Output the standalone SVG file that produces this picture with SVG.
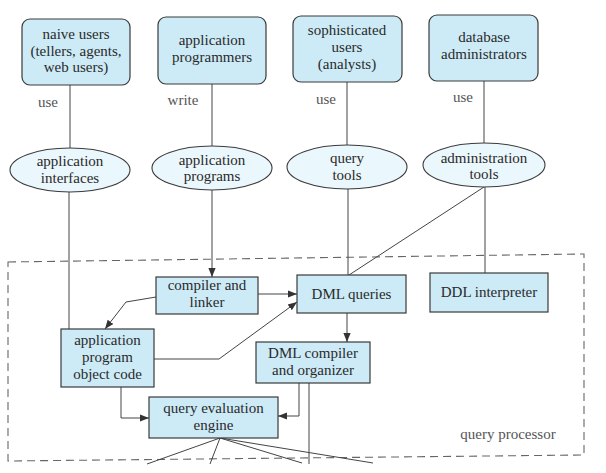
<svg xmlns="http://www.w3.org/2000/svg" width="606" height="473" viewBox="0 0 606 473">
<defs>
<style>
.box{fill:#cdeaf7;stroke:#3a3a3a;stroke-width:1.2}
.ell{fill:#eaf7fc;stroke:#3a3a3a;stroke-width:1.1}
.c{fill:none;stroke:#444;stroke-width:1}
.ca{fill:none;stroke:#444;stroke-width:1;marker-end:url(#ah)}
.dash{fill:none;stroke:#666;stroke-width:1.1;stroke-dasharray:8,5}
</style>
<marker id="ah" viewBox="0 0 10 10" refX="10" refY="5" markerWidth="9" markerHeight="9" markerUnits="userSpaceOnUse" orient="auto">
<path d="M0,1 L10,5 L0,9 z" fill="#333"/>
</marker>
</defs>
<rect width="606" height="473" fill="#fff"/>

<polygon id="query-processor-boundary" class="dash" points="8,262 584,254 584,455 8,461"/>
<text x="508" y="439" font-family="Liberation Serif" font-size="15" text-anchor="middle" fill="#555">query processor</text>

<g id="connectors">
<line class="c" x1="70" y1="85" x2="70" y2="148"/>
<line class="c" x1="212" y1="84" x2="212" y2="147"/>
<line class="c" x1="347" y1="82" x2="347" y2="145"/>
<line class="c" x1="484" y1="81" x2="484" y2="143"/>
<line class="c" x1="69" y1="192" x2="69" y2="329"/>
<line class="ca" x1="212" y1="190" x2="212" y2="277"/>
<line class="c" x1="348" y1="189" x2="348" y2="275"/>
<line class="c" x1="484" y1="187" x2="349" y2="275"/>
<line class="c" x1="485" y1="187" x2="485" y2="273"/>
<line class="ca" x1="258" y1="294" x2="297" y2="294"/>
<polyline class="ca" points="156,297 126,302 105,329"/>
<polyline class="ca" points="154,359 219,359 297,302"/>
<line class="ca" x1="347" y1="313" x2="347" y2="342"/>
<polyline class="ca" points="121,387 121,418 149,418"/>
<polyline class="ca" points="299,383 299,416 278,416"/>
<line class="c" x1="309" y1="383" x2="309" y2="464"/>
<line class="c" x1="220" y1="438" x2="147" y2="464"/>
<line class="c" x1="220" y1="438" x2="210" y2="464"/>
<line class="c" x1="220" y1="438" x2="302" y2="463"/>
<line class="c" x1="220" y1="438" x2="373" y2="463"/>
</g>

<text x="48" y="107" font-family="Liberation Serif" font-size="15" text-anchor="middle" fill="#555">use</text>
<text x="183" y="105" font-family="Liberation Serif" font-size="15" text-anchor="middle" fill="#555">write</text>
<text x="326" y="104" font-family="Liberation Serif" font-size="15" text-anchor="middle" fill="#555">use</text>
<text x="463" y="102" font-family="Liberation Serif" font-size="15" text-anchor="middle" fill="#555">use</text>

<g id="naive-users">
<rect class="box" x="22" y="19" width="108" height="66" rx="8"/>
<text x="76" y="39" font-family="Liberation Serif" font-size="15" text-anchor="middle" fill="#2a2a2a">naive users</text>
<text x="76" y="56" font-family="Liberation Serif" font-size="15" text-anchor="middle" fill="#2a2a2a">(tellers, agents,</text>
<text x="76" y="72" font-family="Liberation Serif" font-size="15" text-anchor="middle" fill="#2a2a2a">web users)</text>
</g>
<g id="application-programmers">
<rect class="box" x="158" y="17" width="108" height="67" rx="8"/>
<text x="212" y="45" font-family="Liberation Serif" font-size="15" text-anchor="middle" fill="#2a2a2a">application</text>
<text x="212" y="62" font-family="Liberation Serif" font-size="15" text-anchor="middle" fill="#2a2a2a">programmers</text>
</g>
<g id="sophisticated-users">
<rect class="box" x="293" y="16" width="109" height="66" rx="8"/>
<text x="347" y="35" font-family="Liberation Serif" font-size="15" text-anchor="middle" fill="#2a2a2a">sophisticated</text>
<text x="347" y="52" font-family="Liberation Serif" font-size="15" text-anchor="middle" fill="#2a2a2a">users</text>
<text x="347" y="69" font-family="Liberation Serif" font-size="15" text-anchor="middle" fill="#2a2a2a">(analysts)</text>
</g>
<g id="database-administrators">
<rect class="box" x="429" y="15" width="109" height="66" rx="8"/>
<text x="484" y="42" font-family="Liberation Serif" font-size="15" text-anchor="middle" fill="#2a2a2a">database</text>
<text x="484" y="59" font-family="Liberation Serif" font-size="15" text-anchor="middle" fill="#2a2a2a">administrators</text>
</g>

<g id="application-interfaces">
<ellipse class="ell" cx="70" cy="170" rx="60" ry="22"/>
<text x="70" y="166" font-family="Liberation Serif" font-size="15" text-anchor="middle" fill="#2a2a2a">application</text>
<text x="70" y="183" font-family="Liberation Serif" font-size="15" text-anchor="middle" fill="#2a2a2a">interfaces</text>
</g>
<g id="application-programs">
<ellipse class="ell" cx="212" cy="168" rx="60" ry="22"/>
<text x="212" y="165" font-family="Liberation Serif" font-size="15" text-anchor="middle" fill="#2a2a2a">application</text>
<text x="212" y="181" font-family="Liberation Serif" font-size="15" text-anchor="middle" fill="#2a2a2a">programs</text>
</g>
<g id="query-tools">
<ellipse class="ell" cx="347" cy="167" rx="60" ry="22"/>
<text x="347" y="163" font-family="Liberation Serif" font-size="15" text-anchor="middle" fill="#2a2a2a">query</text>
<text x="347" y="180" font-family="Liberation Serif" font-size="15" text-anchor="middle" fill="#2a2a2a">tools</text>
</g>
<g id="administration-tools">
<ellipse class="ell" cx="484" cy="165" rx="61" ry="22"/>
<text x="484" y="163" font-family="Liberation Serif" font-size="15" text-anchor="middle" fill="#2a2a2a">administration</text>
<text x="484" y="179" font-family="Liberation Serif" font-size="15" text-anchor="middle" fill="#2a2a2a">tools</text>
</g>

<g id="compiler-and-linker">
<rect class="box" x="156" y="277" width="102" height="37"/>
<text x="207" y="290" font-family="Liberation Serif" font-size="15" text-anchor="middle" fill="#2a2a2a">compiler and</text>
<text x="207" y="307" font-family="Liberation Serif" font-size="15" text-anchor="middle" fill="#2a2a2a">linker</text>
</g>
<g id="dml-queries">
<rect class="box" x="297" y="275" width="109" height="38"/>
<text x="351.5" y="299" font-family="Liberation Serif" font-size="15" text-anchor="middle" fill="#2a2a2a">DML queries</text>
</g>
<g id="ddl-interpreter">
<rect class="box" x="430" y="273" width="118" height="39"/>
<text x="489" y="297" font-family="Liberation Serif" font-size="15" text-anchor="middle" fill="#2a2a2a">DDL interpreter</text>
</g>
<g id="application-program-object-code">
<rect class="box" x="61" y="329" width="93" height="58"/>
<text x="107.5" y="345" font-family="Liberation Serif" font-size="15" text-anchor="middle" fill="#2a2a2a">application</text>
<text x="107.5" y="362" font-family="Liberation Serif" font-size="15" text-anchor="middle" fill="#2a2a2a">program</text>
<text x="107.5" y="379" font-family="Liberation Serif" font-size="15" text-anchor="middle" fill="#2a2a2a">object code</text>
</g>
<g id="dml-compiler">
<rect class="box" x="256" y="342" width="114" height="41"/>
<text x="313" y="358" font-family="Liberation Serif" font-size="15" text-anchor="middle" fill="#2a2a2a">DML compiler</text>
<text x="313" y="375" font-family="Liberation Serif" font-size="15" text-anchor="middle" fill="#2a2a2a">and organizer</text>
</g>
<g id="query-evaluation-engine">
<rect class="box" x="149" y="397" width="129" height="41"/>
<text x="213.5" y="413" font-family="Liberation Serif" font-size="15" text-anchor="middle" fill="#2a2a2a">query evaluation</text>
<text x="213.5" y="430" font-family="Liberation Serif" font-size="15" text-anchor="middle" fill="#2a2a2a">engine</text>
</g>
</svg>
